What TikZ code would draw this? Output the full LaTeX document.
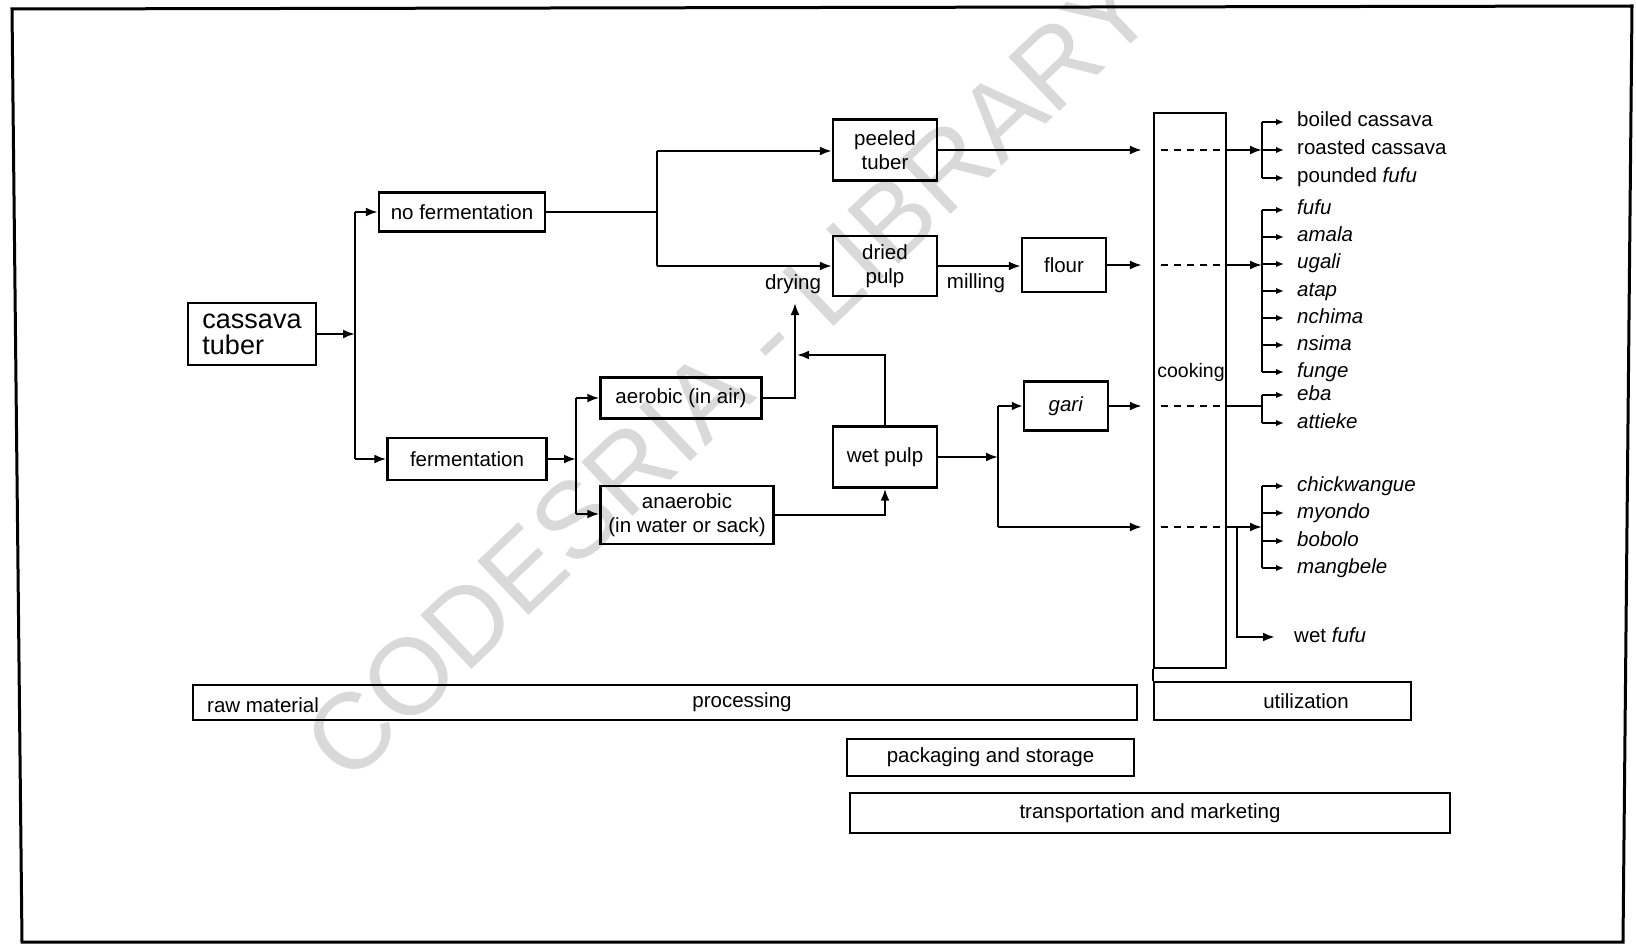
\documentclass[tikz,border=0pt]{standalone}
\usepackage{fontspec}
\setmainfont{Liberation Sans}
\usetikzlibrary{arrows.meta}
\newcommand\myfs{\fontsize{20.5}{24}\selectfont}
\begin{document}
\begin{tikzpicture}[x=1pt,y=-1pt,
  box/.style={draw, line width=2.4pt, inner sep=0pt, align=center, font=\myfs},
  arr/.style={line width=2.2pt, -{Latex[length=12pt,width=9pt]}},
  oarr/.style={line width=2.2pt, -{Latex[open,length=11pt,width=9pt]}},
  ln/.style={line width=2.2pt},
  thinln/.style={line width=1.8pt},
  sarr/.style={line width=1.8pt, -{Latex[length=8pt,width=6.5pt]}},
  lbl/.style={inner sep=0pt, anchor=west, font=\myfs, text height=15pt, text depth=5pt},
  txt/.style={inner sep=0pt, font=\myfs},
  dsh/.style={line width=1.6pt, dash pattern=on 7pt off 6pt},
  wm/.style={inner sep=0pt, text=black!15, font=\fontsize{108}{108}\selectfont, rotate=43.5}
]
\useasboundingbox (0,0) rectangle (1636,944);
\fill[white] (0,0) rectangle (1636,944);
% watermark
\node[wm] (wmark) at (729,374) {CODESRIA - LIBRARY};
% frame
\draw[line width=3pt] (12,9) -- (1632,6) -- (1623,942) -- (22,942) -- cycle;

% boxes
\node[box, minimum width=128pt, minimum height=62pt, align=left,
      font=\fontsize{27}{26}\selectfont] (cas) at (252,334) {cassava\\tuber};
\node[box, minimum width=166pt, minimum height=39pt] (nofer) at (462,212) {no fermentation};
\node[box, minimum width=159pt, minimum height=42pt] (fer) at (467,459) {fermentation};
\node[box, minimum width=104pt, minimum height=61pt] (peeled) at (885,150) {peeled\\tuber};
\node[box, minimum width=104pt, minimum height=60pt] (dried) at (885,266) {dried\\pulp};
\node[box, minimum width=84pt, minimum height=54pt] (flour) at (1064,265) {flour};
\node[box, minimum width=84pt, minimum height=49pt] (gari) at (1066,406) {\textit{gari}};
\node[box, minimum width=161pt, minimum height=41pt] (aerobic) at (681,398) {aerobic (in air)};
\node[box, minimum width=173pt, minimum height=58pt] (anaerobic) at (687,515) {anaerobic\\(in water or sack)};
\node[box, minimum width=104pt, minimum height=61pt] (wetpulp) at (885,457) {wet pulp};
\node[box, minimum width=72pt, minimum height=555pt] (cook) at (1190,390.5) {};
\node[txt, font=\fontsize{19.5}{22}\selectfont] (cookl) at (1191,372) {cooking};

\node[txt] (drying) at (793,284) {drying};
\node[txt] (milling) at (976,283) {milling};

% left part
\coordinate (j1) at (355,334);
\coordinate (j1t) at (355,212);
\coordinate (j1b) at (355,459);
\draw[arr] (cas.east) -- (cas.east -| j1);
\draw[ln] (j1t) -- (j1b);
\draw[arr] (j1t) -- (nofer.west);
\draw[arr] (j1b) -- (fer.west);

\coordinate (j2t) at (657,151);
\coordinate (j2b) at (657,266);
\draw[ln] (nofer.east) -- (nofer.east -| j2t);
\draw[ln] (j2t) -- (j2b);
\draw[arr] (j2t) -- (j2t -| peeled.west);
\draw[arr] (j2b) -- (j2b -| dried.west);
\draw[arr] (dried.east) -- (dried.east -| flour.west);

\coordinate (dtip) at (795,303);
\draw[arr] (aerobic.east) -| (dtip);
\coordinate (wpm) at (797,355);
\draw[arr] (wetpulp.north) |- (wpm);
\draw[arr] (anaerobic.east) -| (wetpulp.south);

\coordinate (j3) at (576,459);
\coordinate (j3t) at (576,398);
\coordinate (j3b) at (576,514);
\draw[arr] (fer.east) -- (j3);
\draw[ln] (j3t) -- (j3b);
\draw[arr] (j3t) -- (aerobic.west);
\draw[arr] (j3b) -- (j3b -| anaerobic.west);

\coordinate (j4) at (998,457);
\coordinate (j4t) at (998,406);
\coordinate (j4b) at (998,527);
\draw[arr] (wetpulp.east) -- (wetpulp.east -| j4);
\draw[ln] (j4t) -- (j4b);
\draw[oarr] (j4t) -- (gari.west);
\draw[arr, shorten >=11pt] (j4b) -- (j4b -| cook.west);
\draw[arr, shorten >=11pt] (peeled.east) -- (peeled.east -| cook.west);
\draw[arr, shorten >=11pt] (flour.east) -- (flour.east -| cook.west);
\draw[arr, shorten >=11pt] (gari.east) -- (gari.east -| cook.west);

% dashed lines inside cooking
\draw[dsh] (1161,150) -- (1221,150);
\draw[dsh] (1161,265) -- (1221,265);
\draw[dsh] (1161,406) -- (1221,406);
\draw[dsh] (1161,527) -- (1221,527);

% outputs group 1
\coordinate (b1) at (1262,150);
\node[lbl] (o1) at (1297,122) {boiled cassava};
\node[lbl] (o2) at (1297,150) {roasted cassava};
\node[lbl] (o3) at (1297,178) {pounded \textit{fufu}};
\draw[arr] (cook.east |- b1) -- (b1);
\draw[thinln] (o1.west -| b1) -- (o3.west -| b1);
\foreach \n in {o1,o2,o3} \draw[sarr] (\n.west -| b1) -- ([xshift=-13pt]\n.west);

% group 2
\coordinate (b2) at (1262,265);
\node[lbl] (p1) at (1297,210) {\textit{fufu}};
\node[lbl] (p2) at (1297,237) {\textit{amala}};
\node[lbl] (p3) at (1297,264) {\textit{ugali}};
\node[lbl] (p4) at (1297,291) {\textit{atap}};
\node[lbl] (p5) at (1297,318) {\textit{nchima}};
\node[lbl] (p6) at (1297,345) {\textit{nsima}};
\node[lbl] (p7) at (1297,372) {\textit{funge}};
\draw[arr] (cook.east |- b2) -- (b2);
\draw[thinln] (p1.west -| b2) -- (p7.west -| b2);
\foreach \n in {p1,p2,p3,p4,p5,p6,p7} \draw[sarr] (\n.west -| b2) -- ([xshift=-13pt]\n.west);

% group 3
\coordinate (b3) at (1262,406);
\node[lbl] (q1) at (1297,395) {\textit{eba}};
\node[lbl] (q2) at (1297,423) {\textit{attieke}};
\draw[ln] (cook.east |- b3) -- (b3);
\draw[thinln] (q1.west -| b3) -- (q2.west -| b3);
\foreach \n in {q1,q2} \draw[sarr] (\n.west -| b3) -- ([xshift=-13pt]\n.west);

% group 4
\coordinate (b4) at (1262,527);
\coordinate (w4) at (1237,527);
\node[lbl] (r1) at (1297,486) {\textit{chickwangue}};
\node[lbl] (r2) at (1297,513) {\textit{myondo}};
\node[lbl] (r3) at (1297,541) {\textit{bobolo}};
\node[lbl] (r4) at (1297,568) {\textit{mangbele}};
\draw[ln] (cook.east |- w4) -- (w4);
\draw[arr] (w4) -- (b4);
\draw[thinln] (r1.west -| b4) -- (r4.west -| b4);
\foreach \n in {r1,r2,r3,r4} \draw[sarr] (\n.west -| b4) -- ([xshift=-13pt]\n.west);
\node[lbl] (wf) at (1294,637) {wet \textit{fufu}};
\draw[arr, line width=2.6pt] (w4) |- ([xshift=-19pt]wf.west);

% bottom bars
\node[box, minimum width=944pt, minimum height=35pt] (proc) at (665,702.5) {};
\node[txt, anchor=west] (raw) at (207,705) {raw material};
\node[txt] (procl) at (742,702) {processing};
\node[box, minimum width=257pt, minimum height=38pt] (util) at (1282.5,701) {};
\node[txt] (utill) at (1306,701) {utilization};
\draw[ln] (cook.south west) -- (util.north west);
\node[box, minimum width=287pt, minimum height=37pt] (pack) at (990.5,757.5) {packaging and storage};
\node[box, minimum width=600pt, minimum height=40pt] (trans) at (1150,813) {transportation and marketing};
\end{tikzpicture}
\end{document}
